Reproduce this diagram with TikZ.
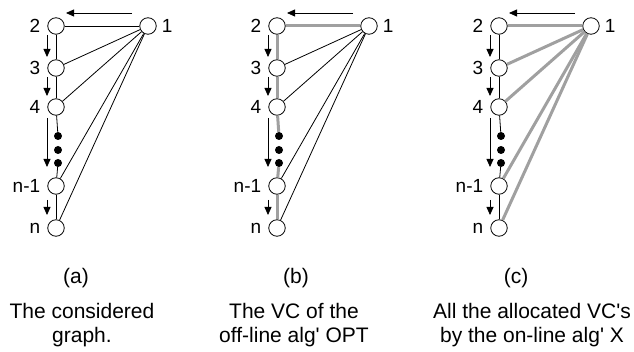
\documentclass[tikz,border=0pt]{standalone}
\usepackage{fontspec}
\setmainfont{Liberation Sans}
\usepackage{xcolor}
\usepackage{tikz}
\usetikzlibrary{arrows.meta}
\definecolor{vcgray}{RGB}{160,160,160}

% one copy of the graph: #1 x shift, #2 name prefix,
% #3 style of edge 1-2, #4 style of the other spokes, #5 style of the chain
\newcommand{\chaingraph}[5]{%
  \begin{scope}[xshift=#1]
    \node[vtx,label={[lbl,label distance=5pt]right:1}] (#2one) at (148,26) {};
    \node[vtx,label={[lbl]left:2}] (#2two) at (56,26) {};
    \node[vtx,label={[lbl]left:3}] (#2three) at (56,68) {};
    \node[vtx,label={[lbl]left:4}] (#2four) at (56,107) {};
    \node[dot] (#2da) at (58,136) {};
    \node[dot] (#2db) at (58,150) {};
    \node[dot] (#2dc) at (58,163) {};
    \node[vtx,label={[lbl]left:n-1}] (#2nm) at (56,186) {};
    \node[vtx,label={[lbl]left:n}] (#2n) at (56,228) {};

    \draw[#3] (#2one) -- (#2two);
    \draw[#4] (#2one) -- (#2three);
    \draw[#4] (#2one) -- (#2four);
    \draw[#4] (#2one) -- (#2nm);
    \draw[#4] (#2one) -- (#2n);
    \draw[#5] (#2two) -- (#2three);
    \draw[#5] (#2three) -- (#2four);
    \draw[#5] (#2four) -- (#2da);
    \draw[#5] (#2dc) -- (#2nm);
    \draw[#5] (#2nm) -- (#2n);

    \coordinate (#2ta) at (132,13);
    \coordinate (#2tb) at (66,13);
    \draw[arr] (#2ta) -- (#2tb);
    \draw[arr] ([xshift=-9pt,yshift=-9pt]#2two.center) -- ([xshift=-9pt,yshift=11pt]#2three.center);
    \draw[arr] ([xshift=-9pt,yshift=-9pt]#2three.center) -- ([xshift=-9pt,yshift=11pt]#2four.center);
    \draw[arr] ([xshift=-9pt,yshift=-11pt]#2four.center) -- ([xshift=-9pt,yshift=19pt]#2nm.center);
    \draw[arr] ([xshift=-9pt,yshift=-14pt]#2nm.center) -- ([xshift=-9pt,yshift=13pt]#2n.center);
  \end{scope}}

\begin{document}
\begin{tikzpicture}[x=1pt,y=-1pt,
    vtx/.style={draw,circle,fill=white,minimum size=16.5pt,inner sep=0pt,line width=0.8pt},
    dot/.style={circle,fill=black,minimum size=8pt,inner sep=0pt},
    lbl/.style={font=\fontsize{19}{21}\selectfont,inner sep=0pt,label distance=7pt},
    thinedge/.style={line width=0.8pt},
    vcedge/.style={vcgray,line width=3pt},
    arr/.style={line width=0.8pt,-{Triangle[length=8pt,width=7pt]}},
    caption/.style={align=center,font=\fontsize{21}{23.5}\selectfont,inner sep=0pt}]
  \useasboundingbox (0,0) rectangle (634,352);

  \chaingraph{0pt}{a}{thinedge}{thinedge}{thinedge}
  \chaingraph{221pt}{b}{vcedge}{thinedge}{vcedge}
  \chaingraph{443pt}{c}{vcedge}{vcedge}{thinedge}

  \node[caption] (capa) at (76,278) {(a)};
  \node[caption] (capb) at (296,278) {(b)};
  \node[caption] (capc) at (516,278) {(c)};
  \node[caption] (txta) at (82,325) {The considered\\graph.};
  \node[caption] (txtb) at (294,325) {The VC of the\\off-line alg\textquotesingle{} OPT};
  \node[caption] (txtc) at (532,325) {All the allocated VC\textquotesingle{}s\\by the on-line alg\textquotesingle{} X};
\end{tikzpicture}
\end{document}
